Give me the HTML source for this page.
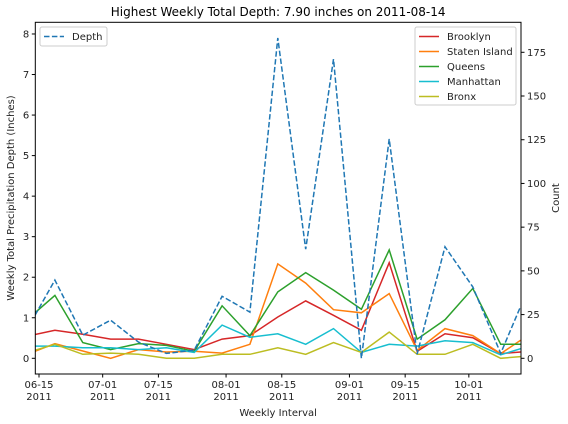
<!DOCTYPE html>
<html><head><meta charset="utf-8"><style>
body{margin:0;background:#fff;}
svg{display:block;font-family:"DejaVu Sans","Liberation Sans",sans-serif;}
</style></head><body>
<svg id="chart" width="568" height="424" xmlns="http://www.w3.org/2000/svg"></svg>
<script>
const dates=["2011-06-14","2011-06-19","2011-06-26","2011-07-03","2011-07-10","2011-07-17","2011-07-24","2011-07-31","2011-08-07","2011-08-14","2011-08-21","2011-08-28","2011-09-04","2011-09-11","2011-09-18","2011-09-25","2011-10-02","2011-10-09","2011-10-14"];
const depth=[1.06,1.93,0.57,0.94,0.40,0.12,0.20,1.53,1.14,7.90,2.69,7.38,0.0,5.41,0.10,2.75,1.76,0.12,1.28];
const brooklyn=[13.6,16,13.7,11,11,8,5,11,13,23.6,32.8,24.6,16,54.7,4,14,11.8,2.7,3.6];
const staten=[4,8.4,4.2,0,5,3.6,4,3,8,54,43,27.8,26,37,4.6,17,13,2.7,10.3];
const queens=[26,36,9,5,8.4,7.4,4,30,13,38,49,39,28,62,10.9,22,40,8,8];
const manhattan=[7,7,6,6,5,6,3.4,19,12,14,8,17,3.4,8,7,10,9,2,5.5];
const bronx=[4.6,8,2.3,3,2.3,0,0,2.3,2.3,6,2.3,9,3.4,15,2.3,2.3,8,0,1];
const leftTicks=[0,1,2,3,4,5,6,7,8];
const rightTicks=[0,25,50,75,100,125,150,175];
const xTickDates=["2011-06-15","2011-07-01","2011-07-15","2011-08-01","2011-08-15","2011-09-01","2011-09-15","2011-10-01"];
const xTickLabels=["06-15","07-01","07-15","08-01","08-15","09-01","09-15","10-01"];

const NS="http://www.w3.org/2000/svg";
const svg=document.getElementById('chart');
const L=35.3,R=521,T=22.3,B=374;
const base=Date.UTC(2011,5,15);
function day(s){const p=s.split('-');return (Date.UTC(+p[0],+p[1]-1,+p[2])-base)/86400000;}
function X(s){return 39+day(s)*3.98;}
function YL(v){return 358.3-v*40.54;}
function YR(v){return 358.3-v*1.7486;}
function el(tag,attrs,parent){const e=document.createElementNS(NS,tag);for(const k in attrs)e.setAttribute(k,attrs[k]);(parent||svg).appendChild(e);return e;}
function txt(s,attrs){const t=el('text',attrs);t.textContent=s;return t;}

const clip=el('clipPath',{id:'pc'});el('rect',{x:L,y:T,width:R-L,height:B-T},clip);

function line(vals,yf,color,name,dash){
  const d=vals.map((v,i)=>(i?'L':'M')+X(dates[i]).toFixed(1)+','+yf(v).toFixed(1)).join(' ');
  const p=el('path',{d:d,fill:'none',stroke:color,'stroke-width':1.5,'clip-path':'url(#pc)'});
  if(dash)p.setAttribute('stroke-dasharray',dash);
  
  
}
line(brooklyn,YR,'#d62728','brooklyn-line');
line(staten,YR,'#ff7f0e','staten-island-line');
line(queens,YR,'#2ca02c','queens-line');
line(manhattan,YR,'#17becf','manhattan-line');
line(bronx,YR,'#bcbd22','bronx-line');
line(depth,YL,'#1f77b4','depth-line','5.5,2.4');

const fr=el('rect',{x:L,y:T,width:R-L,height:B-T,fill:'none',stroke:'#000','stroke-width':1});


leftTicks.forEach(v=>{const y=YL(v);el('line',{x1:L-3.5,x2:L,y1:y,y2:y,stroke:'#000'});
  const t=txt(String(v),{x:L-6,y:y+3.5,'font-size':10,'text-anchor':'end',fill:'#222'});
  });
rightTicks.forEach(v=>{const y=YR(v);el('line',{x1:R,x2:R+3.5,y1:y,y2:y,stroke:'#000'});
  const t=txt(String(v),{x:R+6,y:y+3.5,'font-size':10,fill:'#222'});
  });
xTickDates.forEach((s,i)=>{const x=X(s);el('line',{x1:x,x2:x,y1:B,y2:B+3.5,stroke:'#000'});
  const t=txt(xTickLabels[i],{x:x,y:B+14,'font-size':10,'text-anchor':'middle',fill:'#222'});
  
  const t2=txt('2011',{x:x,y:B+26,'font-size':10,'text-anchor':'middle',fill:'#222'});
  });

let t=txt('Highest Weekly Total Depth: 7.90 inches on 2011-08-14',{x:(L+R)/2,y:16,'font-size':12,'text-anchor':'middle',fill:'#000'});

t=txt('Weekly Interval',{x:(L+R)/2,y:416,'font-size':10,'text-anchor':'middle',fill:'#222'});

t=txt('Weekly Total Precipitation Depth (Inches)',{x:0,y:0,'font-size':10,'text-anchor':'middle',fill:'#222',transform:'translate(14,198) rotate(-90)'});

t=txt('Count',{x:0,y:0,'font-size':10,'text-anchor':'middle',fill:'#222',transform:'translate(559,198) rotate(-90)'});


// depth legend
const lg1=el('g',{});

el('rect',{x:40,y:27,width:67,height:19,rx:2,fill:'#fff','fill-opacity':0.8,stroke:'#ccc'},lg1);
el('line',{x1:44,x2:64,y1:36.5,y2:36.5,stroke:'#1f77b4','stroke-width':1.5,'stroke-dasharray':'5.5,2.4'},lg1);
const lt=el('text',{x:72,y:40,'font-size':10,fill:'#222'},lg1);lt.textContent='Depth';

const lg2=el('g',{});

el('rect',{x:415,y:27,width:101,height:78,rx:2,fill:'#fff','fill-opacity':0.8,stroke:'#ccc'},lg2);
const names=['Brooklyn','Staten Island','Queens','Manhattan','Bronx'];
const cols=['#d62728','#ff7f0e','#2ca02c','#17becf','#bcbd22'];
names.forEach((n,i)=>{const y=36.5+i*15;
  el('line',{x1:419,x2:439,y1:y,y2:y,stroke:cols[i],'stroke-width':1.5},lg2);
  const e=el('text',{x:447,y:y+3.5,'font-size':10,fill:'#222'},lg2);e.textContent=n;});
</script>
</body></html>
